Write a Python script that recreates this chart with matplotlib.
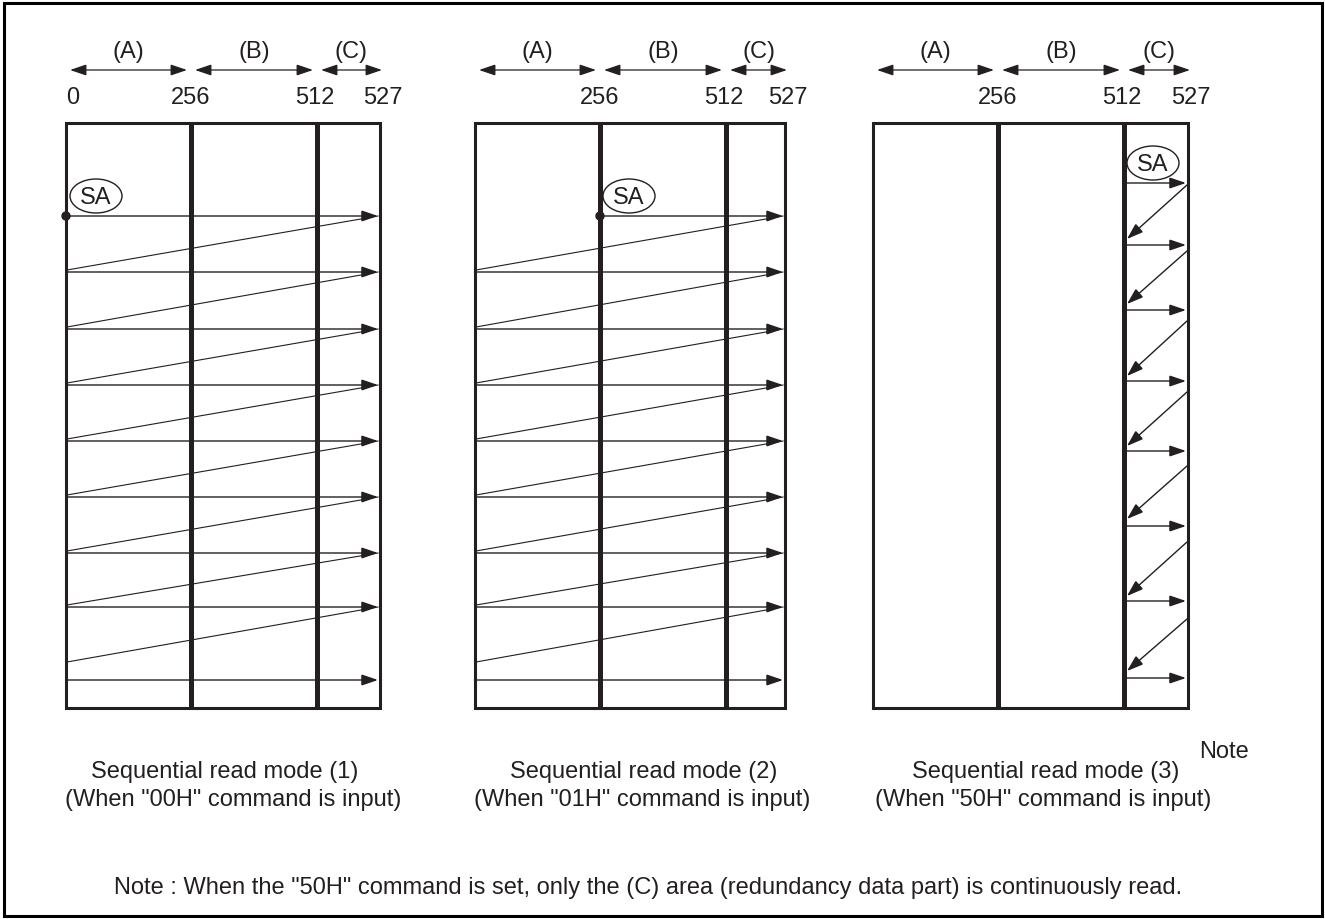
import matplotlib
matplotlib.use("Agg")
import matplotlib.pyplot as plt
from matplotlib.patches import Ellipse, Rectangle, Circle, FancyArrowPatch

plt.rcParams["font.family"] = ["Liberation Sans", "DejaVu Sans"]

INK = "#231f20"
FS = 17

# sheet is laid out in pixel units (1325 x 920), y grows downward
panel_edges = [[66, 191, 317, 380], [475, 600, 726, 785], [873, 998, 1124, 1188]]
box_top, box_bottom = 124, 709
area_labels = ["(A)", "(B)", "(C)"]
addr_labels = ["0", "256", "512", "527"]
addr_shift = [7, 0, -2, 3]
show_zero = [True, False, False]

# modes (1) and (2): read rows and where each return sweep lands
rows_12 = [217, 273, 330, 386, 442, 498, 554, 608, 681]
return_end_12 = [271, 328, 384, 440, 496, 552, 606, 663]
start_col = [0, 1]          # SA sits on column edge 0 (addr 0) / edge 1 (addr 256)

# mode (3): only area (C) is read
rows_3 = [184, 246, 311, 382, 452, 527, 602, 679]
return_start_3 = [186, 252, 322, 393, 467, 543, 620]
return_end_3 = [240, 305, 377, 447, 520, 597, 672]

sa_centres = [(96, 197), (629, 197), (1153, 164)]

caption_1 = ["Sequential read mode (1)", "Sequential read mode (2)", "Sequential read mode (3)"]
caption_2 = ['(When "00H" command is input)', '(When "01H" command is input)',
             '(When "50H" command is input)']
caption_1_x = [225, 644, 1046]
caption_2_x = [233, 642, 1043]
note_text = ('Note : When the "50H" command is set, only the (C) area '
             '(redundancy data part) is continuously read.')


def arrow(ax, x0, y0, x1, y1, style="-|>", lw=1.0):
    a = FancyArrowPatch((x0, y0), (x1, y1),
                        arrowstyle=style + ",head_length=1.0,head_width=0.34",
                        mutation_scale=10, shrinkA=0, shrinkB=0,
                        color=INK, lw=lw, joinstyle="miter")
    ax.add_patch(a)


fig = plt.figure(figsize=(13.25, 9.2), dpi=100)
ax = fig.add_axes([0, 0, 1, 1])
ax.set_xlim(0, 1325)
ax.set_ylim(920, 0)
ax.axis("off")

# outer frame
ax.add_patch(Rectangle((4, 4), 1318, 913, fill=False, lw=2.2, ec="black"))

for p, edges in enumerate(panel_edges):
    # area brackets and labels on top
    for i in range(3):
        xa = edges[i] + 4
        xb = edges[i + 1] - 4 if i < 2 else edges[3] + 2
        arrow(ax, xa, 71, xb, 71, style="<|-|>", lw=0.9)
        ax.text((xa + xb) / 2, 52, area_labels[i], ha="center", va="center",
                fontsize=FS, color=INK)
    for i, lab in enumerate(addr_labels):
        if i == 0 and not show_zero[p]:
            continue
        ax.text(edges[i] + addr_shift[i], 98, lab, ha="center", va="center",
                fontsize=FS, color=INK)

    # page box and column dividers
    ax.add_patch(Rectangle((edges[0], box_top), edges[3] - edges[0],
                           box_bottom - box_top, fill=False, lw=2.2, ec=INK))
    for x in edges[1:3]:
        ax.plot([x, x], [box_top, box_bottom], color=INK, lw=3.6,
                solid_capstyle="butt")

    # SA marker
    cx, cy = sa_centres[p]
    ax.add_patch(Ellipse((cx, cy), 52, 34, fill=False, lw=1.0, ec=INK))
    ax.text(cx, cy + 1, "SA", ha="center", va="center", fontsize=FS, color=INK)

    # read path
    if p < 2:
        x_start = edges[start_col[p]]
        x_end = edges[3] - 2
        ax.add_patch(Circle((x_start, rows_12[0]), 4, color=INK, zorder=5))
        for r, y in enumerate(rows_12):
            xs = x_start if r == 0 else edges[0] + 1
            arrow(ax, xs, y, x_end, y, lw=1.0)
        for r, ye in enumerate(return_end_12):
            ax.plot([x_end, edges[0] + 1], [rows_12[r], ye], color=INK, lw=0.8)
    else:
        x_start = edges[2] + 2
        x_end = edges[3] - 2
        for y in rows_3:
            arrow(ax, x_start, y, x_end, y, lw=1.0)
        for ys, ye in zip(return_start_3, return_end_3):
            arrow(ax, edges[3] - 1, ys, x_start + 1, ye, lw=1.0)

    # captions
    ax.text(caption_1_x[p], 772, caption_1[p], ha="center", va="center",
            fontsize=FS, color=INK)
    ax.text(caption_2_x[p], 800, caption_2[p], ha="center", va="center",
            fontsize=FS, color=INK)

ax.text(1224, 752, "Note", ha="center", va="center", fontsize=FS, color=INK)
ax.text(648, 888, note_text, ha="center", va="center", fontsize=FS, color=INK)

fig.savefig("out.png", dpi=100)
